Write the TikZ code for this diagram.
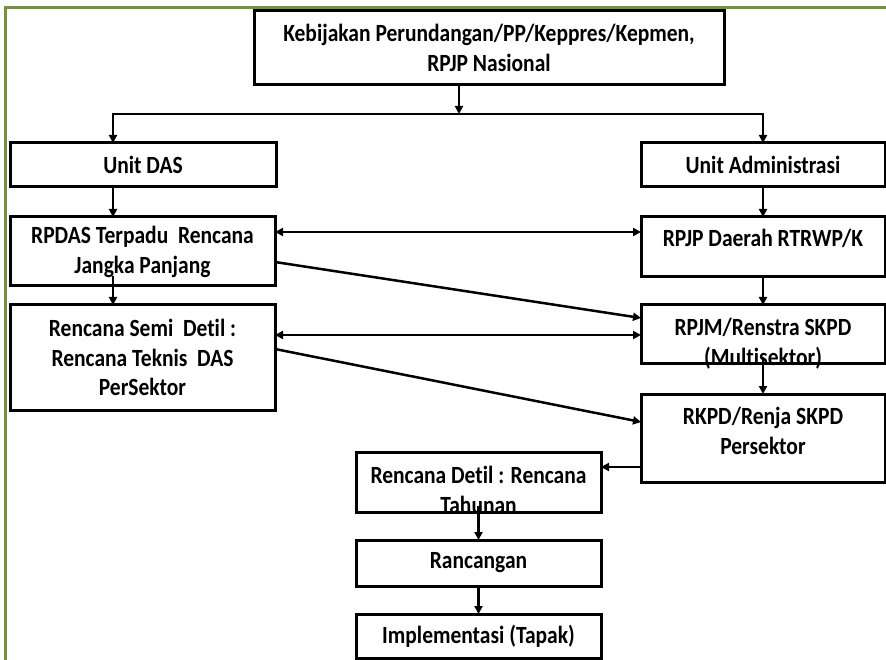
\documentclass[tikz,border=0pt]{standalone}
\usepackage{fontspec}
\setmainfont{Carlito}[Ligatures=NoCommon]
\usetikzlibrary{arrows.meta,calc}
\definecolor{framegreen}{RGB}{118,146,60}
\tikzset{
  box/.style={draw=black, line width=3pt, anchor=north west, inner sep=0pt, outer sep=0pt},
  txt/.style={font=\bfseries\fontsize{21.5}{26}\selectfont, align=center, inner sep=0pt, yscale=1.15, transform shape},
  arr/.style={line width=2.5pt, -{Triangle[length=8pt,width=8pt]}},
  darr/.style={line width=2.5pt, {Triangle[length=8pt,width=8pt]}-{Triangle[length=8pt,width=8pt]}},
}
\begin{document}
\begin{tikzpicture}[x=1pt,y=-1pt]
\useasboundingbox (0,0) rectangle (886,660);
% outer frame
\draw[framegreen, line width=3pt] (5,662) -- (5,8) -- (888,8);

% boxes
\node[box, minimum width=470pt, minimum height=74pt] (kebijakan) at (254,11) {};
\node[box, minimum width=266pt, minimum height=44pt] (unitdas) at (10,143) {};
\node[box, minimum width=244pt, minimum height=44pt] (unitadm) at (641,143) {};
\node[box, minimum width=265pt, minimum height=69pt] (rpdas) at (10,217) {};
\node[box, minimum width=244pt, minimum height=60pt] (rpjpd) at (641,217) {};
\node[box, minimum width=265pt, minimum height=105pt] (rencsemi) at (10,305) {};
\node[box, minimum width=244pt, minimum height=58pt] (rpjm) at (641,305) {};
\node[box, minimum width=244pt, minimum height=88pt] (rkpd) at (641,394) {};
\node[box, minimum width=245pt, minimum height=60pt] (rdetil) at (356,452) {};
\node[box, minimum width=245pt, minimum height=46pt] (rancangan) at (356,540) {};
\node[box, minimum width=245pt, minimum height=44pt] (impl) at (356,614) {};

% texts
\node[txt] (tkeb) at (kebijakan.center) {Kebijakan Perundangan/PP/Keppres/Kepmen,\\RPJP Nasional};
\node[txt] (tuds) at (unitdas.center) {Unit DAS};
\node[txt] (tuadm) at (unitadm.center) {Unit Administrasi};
\node[txt] (trpdas) at (rpdas.center) {RPDAS Terpadu\ \ Rencana\\Jangka Panjang};
\node[txt] (trpjpd) at ($(rpjpd.north)+(0,21)$) {RPJP Daerah RTRWP/K};
\node[txt] (tsemi) at (rencsemi.center) {Rencana Semi\ \ Detil :\\Rencana Teknis\ \ DAS\\PerSektor};
\node[txt] (trpjm) at ($(rpjm.north)+(0,39)$) {RPJM/Renstra SKPD\\(Multisektor)};
\node[txt] (trkpd) at ($(rkpd.north)+(0,37)$) {RKPD/Renja SKPD\\Persektor};
\node[txt] (tdetil) at ($(rdetil.north)+(0,37.5)$) {Rencana Detil : Rencana\\Tahunan};
\node[txt] (tranc) at (rancangan.center) {Rancangan};
\node[txt] (timpl) at (impl.center) {Implementasi (Tapak)};

% connectors
\coordinate (lx) at (113,0);
\coordinate (bus) at (459,114);
\draw[arr] (kebijakan.south -| bus) -- (bus);
\draw[arr] (bus) -| (unitdas.north -| lx);
\draw[arr] (bus) -| (unitadm.north);
\draw[arr] (unitdas.south -| lx) -- (rpdas.north -| lx);
\draw[arr] (unitadm.south) -- (rpjpd.north);
\draw[darr] ($(rpdas.north east)+(0,15)$) -- ($(rpjpd.north west)+(0,15)$);
\draw[arr] ($(rpdas.north east)+(0,45)$) -- ($(rpjm.north west)+(0,13)$);
\draw[arr] ($(rpdas.south -| lx)+(0,-10)$) -- (rencsemi.north -| lx);
\draw[arr] (rpjpd.south) -- (rpjm.north);
\draw[darr] ($(rencsemi.north east)+(0,30)$) -- ($(rpjm.north west)+(0,30)$);
\draw[arr] ($(rencsemi.north east)+(0,44)$) -- ($(rkpd.north west)+(0,28)$);
\draw[arr] ($(rpjm.south)+(0,-6)$) -- (rkpd.north);
\draw[arr] ($(rkpd.north west)+(0,73)$) -- ($(rdetil.north east)+(0,15)$);
\draw[arr] ($(rdetil.south)+(0,-6)$) -- (rancangan.north);
\draw[arr] (rancangan.south) -- (impl.north);
\end{tikzpicture}
\end{document}
